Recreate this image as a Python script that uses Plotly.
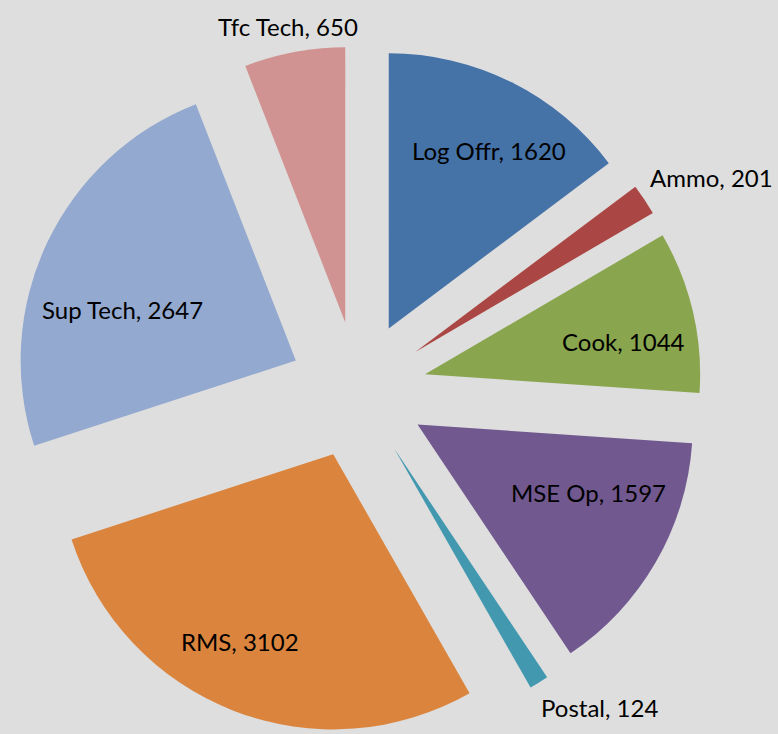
import math
import plotly.graph_objects as go

# ---- data ----
categories = ["Log Offr", "Ammo", "Cook", "MSE Op", "Postal", "RMS", "Sup Tech", "Tfc Tech"]
values = [1620, 201, 1044, 1597, 124, 3102, 2647, 650]

# ---- style ----
colors = ["#4572A7", "#AA4643", "#89A54E", "#71588F", "#4198AF", "#DB843D", "#93A9CF", "#D19392"]
bg = "#DEDEDE"
W, H = 778, 734
PULL = 0.25
dom_x = [0.0103, 0.9100]
dom_y = [0.0, 0.9373]
font_family = "Lato, 'Open Sans', sans-serif"
font_size = 24

# label placement: (radial fraction of radius from the pulled slice centre, angle nudge in degrees)
label_place = {
    "Log Offr": (0.742, 2.7),
    "Ammo": (1.25, 3.2),
    "Cook": (0.730, 3.9),
    "MSE Op": (0.669, -8.3),
    "Postal": (1.20, -6.6),
    "RMS": (0.761, 5.4),
    "Sup Tech": (0.656, -8.9),
    "Tfc Tech": (1.096, -0.3),
}

fig = go.Figure(go.Pie(
    labels=categories,
    values=values,
    sort=False,
    direction="clockwise",
    rotation=0,
    pull=[PULL] * len(values),
    marker=dict(colors=colors, line=dict(width=0)),
    textinfo="none",
    hoverinfo="label+value",
    showlegend=False,
    domain=dict(x=dom_x, y=dom_y),
))

# replicate plotly's pie geometry to place the labels
cx = W * (dom_x[0] + dom_x[1]) / 2
avail_h = H * (dom_y[1] - dom_y[0])
avail_w = W * (dom_x[1] - dom_x[0])
cy = H * (1 - dom_y[0]) - avail_h / 2
R = min(avail_w, avail_h) / 2
r = R / (1 + PULL)
total = sum(values)

annotations = []
cum = 0.0
for name, v in zip(categories, values):
    a0 = cum / total * 360
    cum += v
    a1 = cum / total * 360
    mid = (a0 + a1) / 2
    rad = math.radians(mid)
    scx = cx + PULL * r * math.sin(rad)
    scy = cy - PULL * r * math.cos(rad)
    frac, nudge = label_place[name]
    la = math.radians(mid + nudge)
    lx = scx + frac * r * math.sin(la)
    ly = scy - frac * r * math.cos(la)
    annotations.append(dict(
        x=lx / W, y=1 - ly / H, xref="paper", yref="paper",
        text=f"{name}, {v}", showarrow=False,
        xanchor="center", yanchor="middle",
        font=dict(family=font_family, size=font_size, color="#000000"),
    ))

fig.update_layout(
    width=W, height=H,
    margin=dict(l=0, r=0, t=0, b=0),
    paper_bgcolor=bg, plot_bgcolor=bg,
    annotations=annotations,
)

fig.write_html(
    "out.html",
    config={"displayModeBar": False},
    post_script=(
        "document.body.style.margin='0';"
        "document.body.style.padding='0';"
        "document.body.style.overflow='hidden';"
        "document.body.style.background='" + bg + "';"
    ),
)
